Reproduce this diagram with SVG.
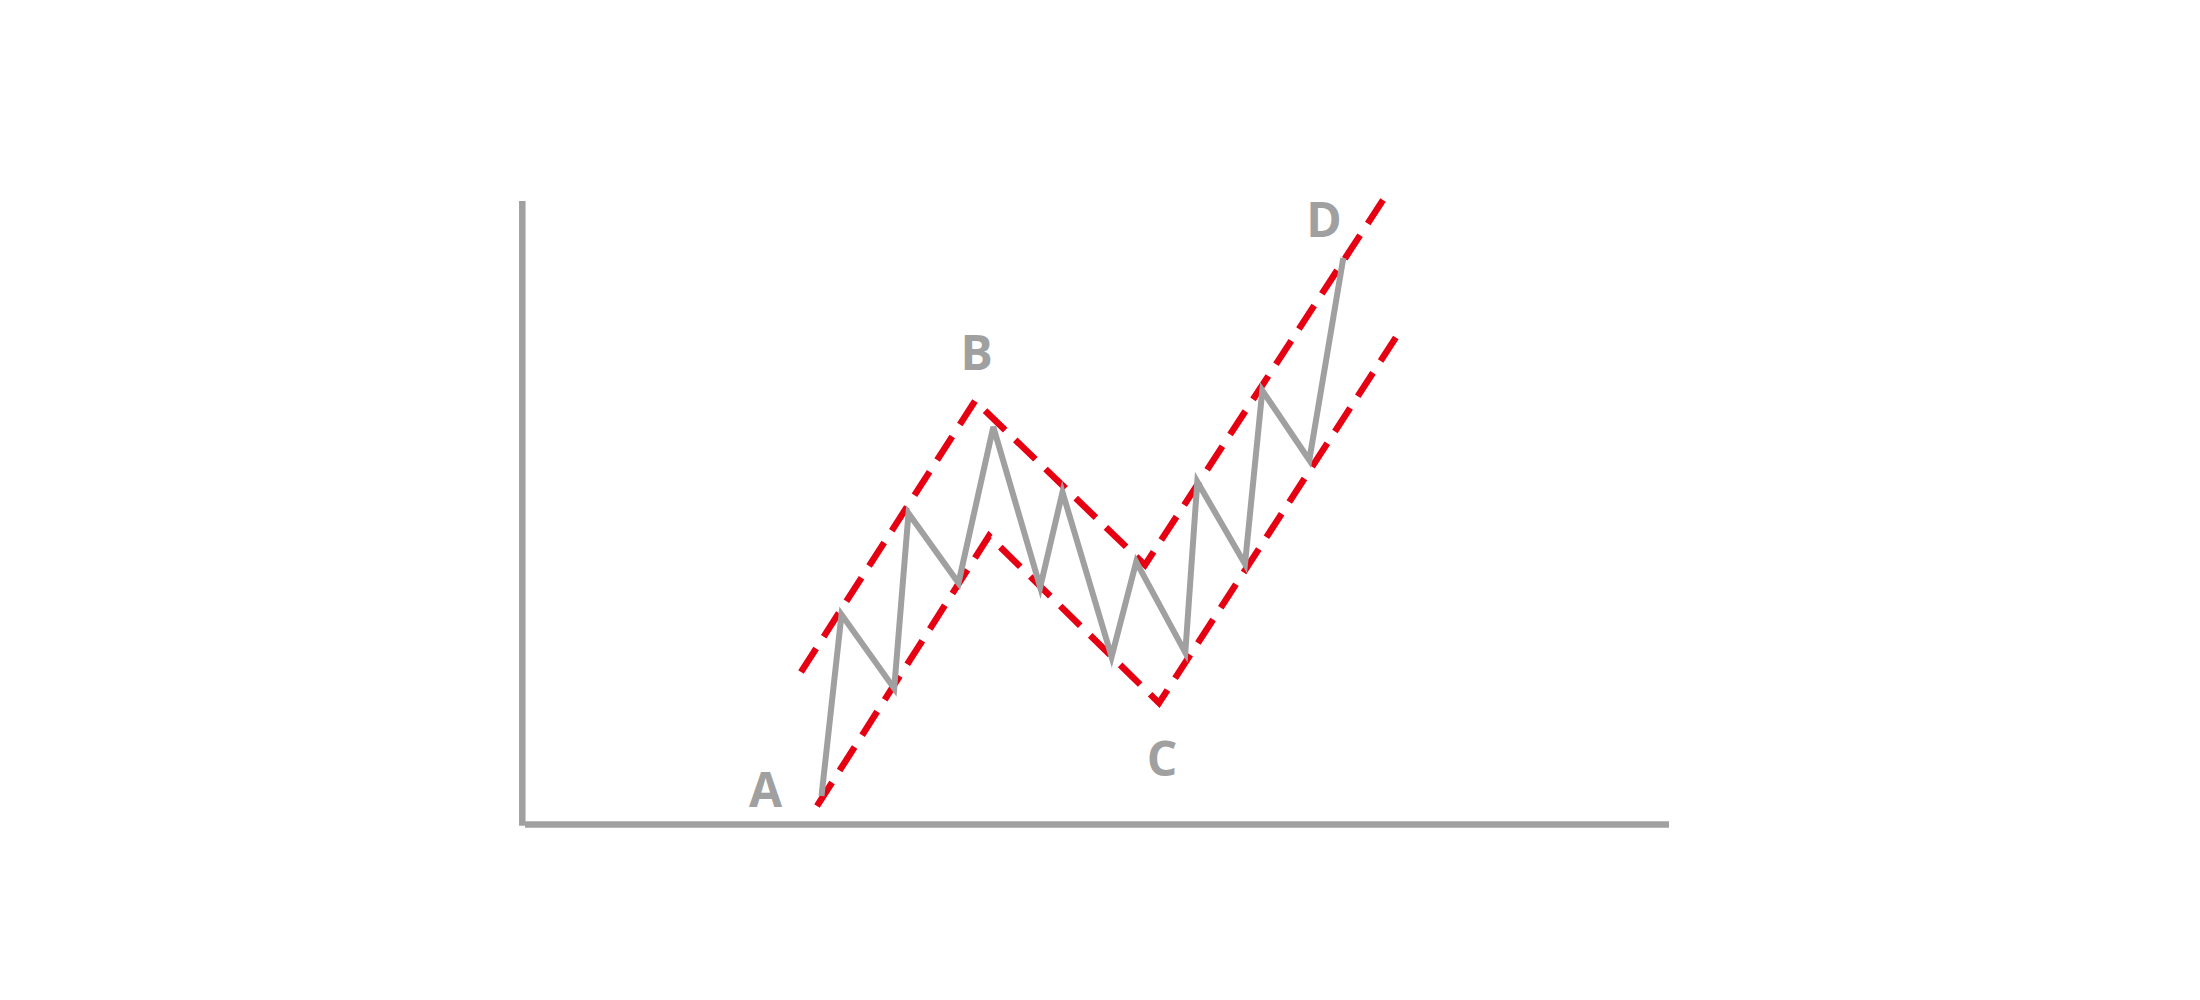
<svg xmlns="http://www.w3.org/2000/svg" width="2200" height="1000" viewBox="0 0 2200 1000">
<style>
.axis{stroke:#a0a0a0;stroke-width:6.5;fill:none}
.price{stroke:#a0a0a0;stroke-width:6;fill:none;stroke-linejoin:miter}
.chan{stroke:#e60012;stroke-width:6.5;fill:none;stroke-dasharray:28 14}
.lbl{font-family:"Open Sans","Liberation Sans",sans-serif;font-weight:bold;font-size:48px;fill:#a0a0a0;text-anchor:middle}
</style>
<rect width="2200" height="1000" fill="#ffffff"/>
<g id="axes">
<line class="axis" x1="522.3" y1="201" x2="522.3" y2="825.7"/>
<line class="axis" x1="525" y1="824.5" x2="1669" y2="824.5"/>
</g>
<g id="connectors">
<polyline class="chan" points="801,672 975,401 1145,565 1385,197"/>
<polyline class="chan" points="817,806 989,536 1159,703 1400,331"/>
<polyline class="price" points="821.5,796 841.5,614.6 894.2,688.4 908.5,513.3 958.5,583 993.3,426.8 1040.2,587.2 1062.5,492.2 1111.6,656.8 1136.2,561.9 1185.3,652.6 1197.3,481.7 1245,564 1262.3,390.6 1309.3,460 1343.3,258"/>
</g>
<g id="label-A"><text class="lbl" x="765.5" y="806.7">A</text></g>
<g id="label-B"><text class="lbl" x="976.5" y="370">B</text></g>
<g id="label-C"><text class="lbl" x="1162" y="776">C</text></g>
<g id="label-D"><text class="lbl" x="1324" y="237">D</text></g>
</svg>
